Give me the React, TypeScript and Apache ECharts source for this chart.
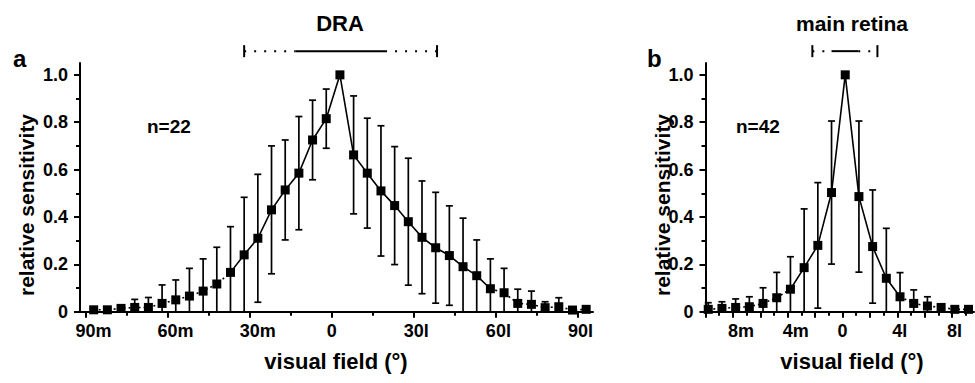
import React, { useEffect, useRef } from "react";
import * as echarts from "echarts";

// ---------- data ----------
const titleA = "DRA";
const titleB = "main retina";
const nA = "n=22";
const nB = "n=42";
const yName = "relative sensitivity";
const xName = "visual field (°)";

const ticksA = [-90, -60, -30, 0, 30, 60, 90];
const minorTicksA = [-75, -45, -15, 15, 45, 75];
const ticksB = [-10, -8, -6, -4, -2, 0, 2, 4, 6, 8];
const minorTicksB = [-9, -7, -5, -3, -1, 1, 3, 5, 7, 9];
const labelsB = [-8, -4, 0, 4, 8];
const yTicks = [0, 0.2, 0.4, 0.6, 0.8, 1.0];
const yMinorTicks = [0.1, 0.3, 0.5, 0.7, 0.9];

const anglesA = [-87, -82, -77, -72, -67, -62, -57, -52, -47, -42, -37, -32, -27, -22, -17, -12, -7, -2, 3, 8, 13, 18, 23, 28, 33, 38, 43, 48, 53, 58, 63, 68, 73, 78, 83, 88, 93];
const meanA = [0.008, 0.008, 0.014, 0.018, 0.018, 0.035, 0.05, 0.066, 0.087, 0.117, 0.166, 0.24, 0.31, 0.43, 0.514, 0.585, 0.725, 0.815, 1.0, 0.662, 0.585, 0.51, 0.448, 0.38, 0.314, 0.27, 0.237, 0.19, 0.152, 0.097, 0.08, 0.035, 0.031, 0.017, 0.021, 0.007, 0.01];
const sdA = [0, 0, 0.014, 0.034, 0.042, 0.078, 0.084, 0.117, 0.136, 0.155, 0.193, 0.243, 0.27, 0.27, 0.211, 0.239, 0.168, 0.125, 0, 0.249, 0.232, 0.275, 0.249, 0.268, 0.238, 0.234, 0.21, 0.205, 0.151, 0.126, 0.103, 0.06, 0.056, 0.025, 0.038, 0, 0];

const anglesB = [-9.8, -8.8, -7.8, -6.8, -5.8, -4.8, -3.8, -2.8, -1.8, -0.8, 0.2, 1.2, 2.2, 3.2, 4.2, 5.2, 6.2, 7.2, 8.2, 9.2];
const meanB = [0.01, 0.014, 0.018, 0.021, 0.035, 0.059, 0.095, 0.186, 0.28, 0.503, 1.0, 0.486, 0.275, 0.141, 0.063, 0.035, 0.024, 0.018, 0.01, 0.01];
const sdB = [0.028, 0.028, 0.036, 0.042, 0.066, 0.107, 0.137, 0.248, 0.265, 0.302, 0, 0.319, 0.239, 0.211, 0.102, 0.057, 0.039, 0.006, 0, 0];

// bracket above each panel: [left end, solid start, solid end, right end] (degrees)
const bracketA = [-32, -13.3, 19.5, 38.5];
const bracketB = [-2.2, -0.8, 1.15, 2.55];
const bracketLevel = 1.1;

// index range drawn with a solid line (tails dotted)
const solidA = [10, 29];
const solidB = [6, 14];

// ---------- styling ----------
const FONT = '"Liberation Sans", Arial, Helvetica, sans-serif';
const BLACK = "#000";
const TICK_FONT = 18;

// the number is centred on the tick, the m / l suffix hangs to the right
function fmtX(v: number) {
  if (v < 0) return `{pm|}${-v}m`;
  if (v > 0) return `{pl|}${v}l`;
  return "0";
}
function fmtY(v: number) {
  return v === 0 ? "0" : v.toFixed(1);
}

const tickLabelStyle = {
  color: BLACK, fontSize: TICK_FONT, fontWeight: "bold", fontFamily: FONT,
};

function makeAxesX(grid: number, min: number, max: number, major: number[], labels: number[], minor: number[]) {
  return [
    {
      type: "value", gridIndex: grid, min, max, position: "bottom",
      axisLine: { show: true, onZero: false, lineStyle: { color: BLACK, width: 2 } },
      axisTick: { show: true, customValues: major, length: 6, lineStyle: { color: BLACK, width: 2 } },
      axisLabel: {
        show: true, customValues: labels, formatter: fmtX, margin: 10, ...tickLabelStyle,
        rich: {
          pm: { width: TICK_FONT * 0.889, height: 1 },
          pl: { width: TICK_FONT * 0.278, height: 1 },
        },
      },
      splitLine: { show: false },
    },
    {
      type: "value", gridIndex: grid, min, max, position: "bottom",
      axisLine: { show: false, onZero: false },
      axisTick: { show: true, customValues: minor, length: 4, lineStyle: { color: BLACK, width: 2 } },
      axisLabel: { show: false },
      splitLine: { show: false },
    },
  ];
}

function makeAxesY(grid: number) {
  return [
    {
      type: "value", gridIndex: grid, min: 0, max: 1.05, position: "left",
      axisLine: { show: true, onZero: false, lineStyle: { color: BLACK, width: 2 } },
      axisTick: { show: true, customValues: yTicks, length: 6, lineStyle: { color: BLACK, width: 2 } },
      axisLabel: { show: true, customValues: yTicks, formatter: fmtY, margin: 12, ...tickLabelStyle },
      splitLine: { show: false },
    },
    {
      type: "value", gridIndex: grid, min: 0, max: 1.05, position: "left",
      axisLine: { show: false, onZero: false },
      axisTick: { show: true, customValues: yMinorTicks, length: 4, lineStyle: { color: BLACK, width: 2 } },
      axisLabel: { show: false },
      splitLine: { show: false },
    },
  ];
}

function panelSeries(axisIdx: number, angles: number[], mean: number[], sd: number[], solid: number[], bracket: number[]) {
  const pts = angles.map((a, i) => [a, mean[i]]);
  const errs = angles.map((a, i) => [a, mean[i], sd[i]]);
  const lineBase = { type: "line", xAxisIndex: axisIdx, yAxisIndex: axisIdx, symbol: "none", silent: true, z: 3 };
  return [
    {
      type: "custom", xAxisIndex: axisIdx, yAxisIndex: axisIdx, silent: true, z: 2,
      data: errs, encode: { x: 0, y: 1 },
      renderItem: (_p: any, api: any) => {
        const x = api.value(0), m = api.value(1), s = api.value(2);
        const children: any[] = [];
        if (s > 0) {
          const hi = m + s;
          const lo = Math.max(0, m - s);
          const pH = api.coord([x, hi]);
          const pL = api.coord([x, lo]);
          const cw = 3.5;
          const st = { stroke: BLACK, lineWidth: 1.7 };
          children.push({ type: "line", shape: { x1: pL[0], y1: pL[1], x2: pH[0], y2: pH[1] }, style: st });
          children.push({ type: "line", shape: { x1: pH[0] - cw, y1: pH[1], x2: pH[0] + cw, y2: pH[1] }, style: st });
          if (lo > 0.005) children.push({ type: "line", shape: { x1: pL[0] - cw, y1: pL[1], x2: pL[0] + cw, y2: pL[1] }, style: st });
        }
        return { type: "group", children };
      },
    },
    { ...lineBase, data: pts.slice(0, solid[0] + 1), lineStyle: { color: BLACK, width: 1.6, type: [2, 3] } },
    { ...lineBase, data: pts.slice(solid[0], solid[1] + 1), lineStyle: { color: BLACK, width: 1.6, type: "solid" } },
    { ...lineBase, data: pts.slice(solid[1]), lineStyle: { color: BLACK, width: 1.6, type: [2, 3] } },
    {
      type: "scatter", xAxisIndex: axisIdx, yAxisIndex: axisIdx, silent: true, z: 4,
      symbol: "rect", symbolSize: 9, itemStyle: { color: BLACK, opacity: 1 }, data: pts,
    },
    {
      type: "custom", xAxisIndex: axisIdx, yAxisIndex: axisIdx, silent: true, clip: false, z: 2,
      data: [[bracket[0], bracket[1], bracket[2], bracket[3], bracketLevel]],
      encode: { x: [0, 1, 2, 3], y: 4 },
      renderItem: (_p: any, api: any) => {
        const y = api.coord([api.value(0), api.value(4)])[1];
        const xs = [0, 1, 2, 3].map((i) => api.coord([api.value(i), api.value(4)])[0]);
        const st = { stroke: BLACK, lineWidth: 2 };
        const dot = { stroke: BLACK, lineWidth: 2, lineDash: [2, 8] };
        return {
          type: "group",
          children: [
            { type: "line", shape: { x1: xs[0], y1: y - 6, x2: xs[0], y2: y + 6 }, style: st },
            { type: "line", shape: { x1: xs[0], y1: y, x2: xs[1], y2: y }, style: dot },
            { type: "line", shape: { x1: xs[1], y1: y, x2: xs[2], y2: y }, style: st },
            { type: "line", shape: { x1: xs[2], y1: y, x2: xs[3], y2: y }, style: dot },
            { type: "line", shape: { x1: xs[3], y1: y - 6, x2: xs[3], y2: y + 6 }, style: st },
          ],
        };
      },
    },
  ];
}

function txt(text: string, x: number, y: number, size: number, align = "center", rotation = 0) {
  return {
    type: "text", x, y, rotation, silent: true,
    style: {
      text, fill: BLACK, font: `bold ${size}px ${FONT}`,
      textAlign: align, align, textVerticalAlign: "middle", verticalAlign: "middle",
    },
  };
}

export default function App() {
  const ref = useRef<HTMLDivElement>(null);
  useEffect(() => {
    if (!ref.current) return;
    const chart = echarts.init(ref.current, null, { renderer: "svg" });
    const option: any = {
      animation: false,
      backgroundColor: "#fff",
      grid: [
        { left: 80, top: 63, width: 513, height: 248.7, containLabel: false, outerBoundsMode: "none" },
        { left: 705.5, top: 63, width: 268.5, height: 248.7, containLabel: false, outerBoundsMode: "none" },
      ],
      xAxis: [
        ...makeAxesX(0, -92, 95.5, ticksA, ticksA, minorTicksA),
        ...makeAxesX(1, -10, 9.6, ticksB, labelsB, minorTicksB),
      ],
      yAxis: [...makeAxesY(0), ...makeAxesY(1)],
      series: [
        ...panelSeries(0, anglesA, meanA, sdA, solidA, bracketA),
        ...panelSeries(2, anglesB, meanB, sdB, solidB, bracketB),
      ],
      graphic: [
        txt("a", 13, 58, 24, "left"),
        txt("b", 647, 58, 24, "left"),
        txt(titleA, 340, 23, 22),
        txt(titleB, 852, 23, 21),
        txt(nA, 147, 126, 19, "left"),
        txt(nB, 736, 126, 19, "left"),
        txt(xName, 336, 361, 22),
        txt(xName, 852, 361, 22),
        txt(yName, 26, 205, 21, "center", Math.PI / 2),
        txt(yName, 662, 205, 21, "center", Math.PI / 2),
      ],
    };
    chart.setOption(option);
    return () => chart.dispose();
  }, []);
  return (
    <div
      ref={ref}
      style={{ position: "fixed", left: 0, top: 0, width: 975, height: 383, background: "#fff" }}
    />
  );
}
